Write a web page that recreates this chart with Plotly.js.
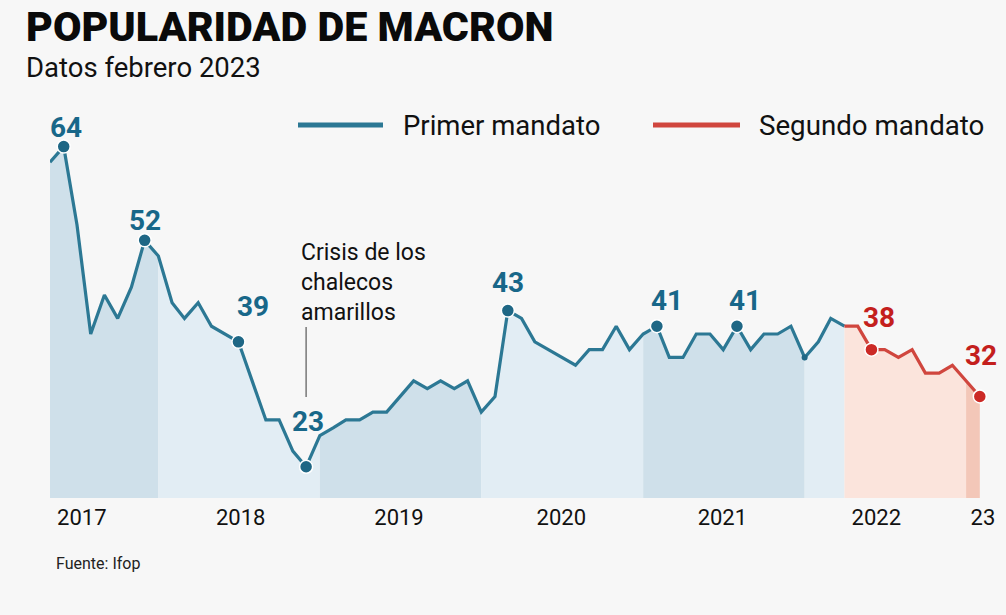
<!DOCTYPE html>
<html>
<head>
<meta charset="utf-8">
<script src="https://cdn.plot.ly/plotly-3.0.1.min.js"></script>
<style>
  html, body { margin: 0; padding: 0; background: #f7f7f7; }
  #chart { width: 1006px; height: 615px; }
</style>
</head>
<body>
<div id="chart"></div>
<script>
// ---- DATA ----
const months = [
  '2017-05-01','2017-06-01','2017-07-01','2017-08-01','2017-09-01','2017-10-01','2017-11-01','2017-12-01',
  '2018-01-01','2018-02-01','2018-03-01','2018-04-01','2018-05-01','2018-06-01','2018-07-01','2018-08-01','2018-09-01','2018-10-01','2018-11-01','2018-12-01',
  '2019-01-01','2019-02-01','2019-03-01','2019-04-01','2019-05-01','2019-06-01','2019-07-01','2019-08-01','2019-09-01','2019-10-01','2019-11-01','2019-12-01',
  '2020-01-01','2020-02-01','2020-03-01','2020-04-01','2020-05-01','2020-06-01','2020-07-01','2020-08-01','2020-09-01','2020-10-01','2020-11-01','2020-12-01',
  '2021-01-01','2021-02-01','2021-03-01','2021-04-01','2021-05-01','2021-06-01','2021-07-01','2021-08-01','2021-09-01','2021-10-01','2021-11-01','2021-12-01',
  '2022-01-01','2022-02-01','2022-03-01','2022-04-01','2022-05-01','2022-06-01','2022-07-01','2022-08-01','2022-09-01','2022-10-01','2022-11-01','2022-12-01',
  '2023-01-01','2023-02-01'
];
const popularity = [
  62, 64, 54, 40, 45, 42, 46, 52,
  50, 44, 42, 44, 41, 40, 39, 34, 29, 29, 25, 23,
  27, 28, 29, 29, 30, 30, 32, 34, 33, 34, 33, 34,
  30, 32, 43, 42, 39, 38, 37, 36, 38, 38, 41, 38,
  40, 41, 37, 37, 40, 40, 38, 41, 38, 40, 40, 41,
  37, 39, 42, 41, 41, 38, 38, 37, 38, 35, 35, 36,
  34, 32
];
// end of first mandate (shared point with second)
const firstMandateEnd = '2022-04-01';
// labelled points
const labelDates = ['2017-06-01','2017-12-01','2018-07-01','2018-12-01','2020-03-01','2021-02-01','2021-08-01','2022-06-01','2023-02-01'];
const labelTexts = ['64','52','39','23','43','41','41','38','32'];
const crisisDate = '2018-12-01';
const crisisText = 'Crisis de los<br>chalecos<br>amarillos';
// year tick labels
const yearTickVals = ['2017-07-12','2018-07-06','2019-06-29','2020-06-30','2021-06-29','2022-06-12','2023-02-08'];
const yearTickText = ['2017','2018','2019','2020','2021','2022','23'];
// background bands (start, end, kind)
const bandStarts = ['2017-05-01','2018-01-01','2019-01-01','2020-01-01','2021-01-01','2022-01-01','2022-04-01','2023-01-01'];
const bandEnds   = ['2018-01-01','2019-01-01','2020-01-01','2021-01-01','2022-01-01','2022-04-01','2023-01-01','2023-02-01'];
const bandKinds  = ['blueDark','blueLight','blueDark','blueLight','blueDark','blueLight','redLight','redDark'];

// ---- STYLE ----
const BLUE = '#2c7894', BLUE_MK = '#1f6785', BLUE_TXT = '#186789';
const RED = '#d0463e', RED_MK = '#cc2a26', RED_TXT = '#c41f1d';
const FILLS = { blueDark: '#cfe0ea', blueLight: '#e2edf4', redLight: '#fbe4dc', redDark: '#f3c7b8' };
const FONT = 'Roboto, "Noto Sans", sans-serif';

// pixel -> paper helpers (plot area: x 50..986, y 131..498)
const L = 50, R = 20, T = 131, B = 117, W = 1006, H = 615;
const PW = W - L - R, PH = H - T - B;
const px = x => (x - L) / PW;
const py = y => (H - B - y) / PH;

const traces = [];
// fills
bandStarts.forEach((s, k) => {
  const e = bandEnds[k];
  const xs = [], ys = [];
  months.forEach((m, i) => { if (m >= s && m <= e) { xs.push(m); ys.push(popularity[i]); } });
  traces.push({
    x: xs, y: ys, type: 'scatter', mode: 'lines', fill: 'tozeroy',
    fillcolor: FILLS[bandKinds[k]], line: { width: 0, color: 'rgba(0,0,0,0)' },
    hoverinfo: 'skip', showlegend: false
  });
});
// lines
const x1 = [], y1 = [], x2 = [], y2 = [];
months.forEach((m, i) => {
  if (m <= firstMandateEnd) { x1.push(m); y1.push(popularity[i]); }
  if (m >= firstMandateEnd) { x2.push(m); y2.push(popularity[i]); }
});
traces.push({ x: x1, y: y1, type: 'scatter', mode: 'lines', line: { color: BLUE, width: 3.2 }, showlegend: false, cliponaxis: false });
traces.push({ x: x2, y: y2, type: 'scatter', mode: 'lines', line: { color: RED, width: 3.2 }, showlegend: false, cliponaxis: false });
// markers
const mkY = labelDates.map(d => popularity[months.indexOf(d)]);
const mkCol = labelDates.map(d => d > firstMandateEnd ? RED_MK : BLUE_MK);
traces.push({
  x: labelDates, y: mkY, type: 'scatter', mode: 'markers', cliponaxis: false,
  marker: { size: 13, color: mkCol, line: { color: '#ffffff', width: 1.5 } }, showlegend: false
});
// small marker Jan 2022
traces.push({
  x: ['2022-01-01'], y: [popularity[months.indexOf('2022-01-01')]], type: 'scatter', mode: 'markers',
  marker: { size: 6, color: BLUE_MK }, showlegend: false, cliponaxis: false
});

// label offsets (layout)
const labelShift = [[2,19],[0,20],[15,35],[2,45],[0,28],[10,26],[8,26],[8,32],[1,41]];

const annotations = labelDates.map((d, k) => ({
  x: d, y: mkY[k], xref: 'x', yref: 'y', text: labelTexts[k], showarrow: false,
  xshift: labelShift[k][0], yshift: labelShift[k][1],
  font: { family: FONT, size: 28, weight: 700, color: d > firstMandateEnd ? RED_TXT : BLUE_TXT }
}));
annotations.push({
  xref: 'paper', yref: 'paper', x: px(24), y: py(67), xanchor: 'left', yanchor: 'middle',
  text: 'Datos febrero 2023', showarrow: false, font: { family: FONT, size: 27.5, color: '#111' }
});
annotations.push({
  xref: 'paper', yref: 'paper', x: px(54), y: py(563), xanchor: 'left', yanchor: 'middle',
  text: 'Fuente: Ifop', showarrow: false, font: { family: FONT, size: 16, color: '#222' }
});
annotations.push({
  xref: 'paper', yref: 'paper', x: px(299), y: py(282), xanchor: 'left', yanchor: 'middle', align: 'left',
  text: crisisText, showarrow: false, font: { family: FONT, size: 23, color: '#111' }
});
annotations.push({
  xref: 'paper', yref: 'paper', x: px(401), y: py(125), xanchor: 'left', yanchor: 'middle',
  text: 'Primer mandato', showarrow: false, font: { family: FONT, size: 27.5, color: '#111' }
});
annotations.push({
  xref: 'paper', yref: 'paper', x: px(757), y: py(125), xanchor: 'left', yanchor: 'middle',
  text: 'Segundo mandato', showarrow: false, font: { family: FONT, size: 27.7, color: '#111' }
});

const shapes = [
  { type: 'line', xref: 'paper', yref: 'paper', x0: px(298), x1: px(383), y0: py(125), y1: py(125), line: { color: BLUE, width: 5 } },
  { type: 'line', xref: 'paper', yref: 'paper', x0: px(653), x1: px(740), y0: py(125), y1: py(125), line: { color: RED, width: 5 } },
  { type: 'line', xref: 'x', yref: 'paper', x0: crisisDate, x1: crisisDate, y0: py(327), y1: py(397), line: { color: '#777', width: 1.5 } }
];

const layout = {
  width: W, height: H,
  margin: { l: L, r: R, t: T, b: B },
  paper_bgcolor: '#f7f7f7', plot_bgcolor: '#f7f7f7',
  title: {
    text: 'POPULARIDAD DE MACRON', xref: 'container', yref: 'container',
    x: 26 / W, xanchor: 'left', y: 1 - 27 / H, yanchor: 'middle',
    font: { family: FONT, size: 41.3, weight: 900, color: '#0a0a0a' }
  },
  xaxis: {
    type: 'date', range: ['2017-05-01', '2023-02-15'],
    tickmode: 'array', tickvals: yearTickVals, ticktext: yearTickText,
    showgrid: false, zeroline: false, showline: false, ticks: '',
    ticklabelstandoff: 4,
    tickfont: { family: FONT, size: 22, color: '#111' }, fixedrange: true
  },
  yaxis: { range: [19, 66], visible: false, fixedrange: true },
  showlegend: false,
  annotations: annotations,
  shapes: shapes
};

Plotly.newPlot('chart', traces, layout, { displayModeBar: false, staticPlot: true });
</script>
</body>
</html>
